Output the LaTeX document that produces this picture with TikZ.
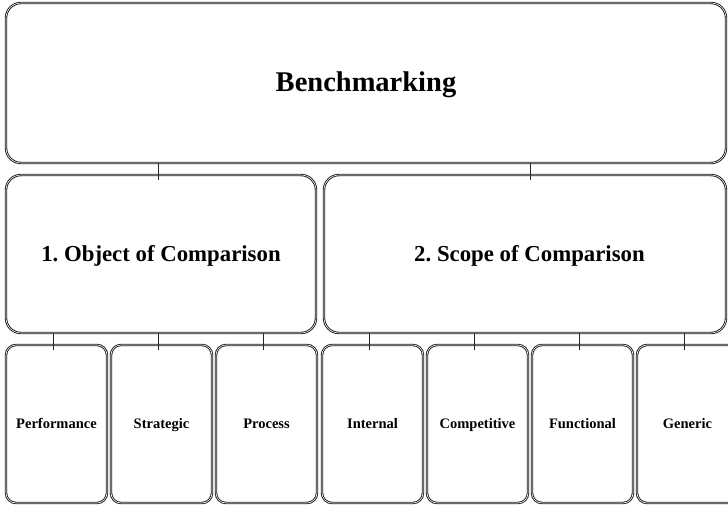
\documentclass[tikz,border=0pt]{standalone}
\usepackage{fontspec}
\setmainfont{Liberation Serif}
\begin{document}
\frenchspacing
\begin{tikzpicture}[x=1pt,y=-1pt,
  frame/.style={draw=black!90, double=white, double distance=0.6pt, line width=0.9pt,
    inner sep=0pt, font=\bfseries, align=center},
  bigbox/.style={frame, rounded corners=15pt},
  midbox/.style={bigbox, minimum height=158pt, text height=16pt, text depth=1pt,
    font=\bfseries\fontsize{22.8}{26}\selectfont},
  leafbox/.style={frame, rounded corners=10pt, minimum width=101pt, minimum height=158pt,
    text height=10pt, text depth=2pt,
    font=\bfseries\fontsize{14.5}{16}\selectfont},
  link/.style={draw=black!85, line width=0.6pt}
]
\clip (0,0) rectangle (728,505);

% root
\node[bigbox, minimum width=720pt, minimum height=160pt, text height=20pt, text depth=2pt,
  font=\bfseries\fontsize{28.5}{32}\selectfont] (root) at (366,83) {Benchmarking};

% two categories
\node[midbox, minimum width=310pt] (obj) at (161,254) {1. Object of Comparison};
\node[midbox, minimum width=402pt] (scope) at (525,254) {\hspace*{9pt}2. Scope of Comparison};

% leaves
\node[leafbox] (perf)  at (56.5,424)  {Performance};
\node[leafbox] (strat) at (161.5,424) {Strategic};
\node[leafbox] (proc)  at (266.5,424) {Process};
\node[leafbox] (int)   at (372.5,424) {Internal};
\node[leafbox] (comp)  at (477.5,424) {Competitive};
\node[leafbox] (func)  at (582.5,424) {Functional};
\node[leafbox] (gen)   at (687.5,424) {Generic};

% connectors
\draw[link] ([xshift=-3pt]root.south -| obj.north) -- ([xshift=-3pt,yshift=-5pt]obj.north);
\draw[link] ([xshift=5pt]root.south -| scope.north) -- ([xshift=5pt,yshift=-5pt]scope.north);
\foreach \c/\p in {perf/obj, strat/obj, proc/obj, int/scope, comp/scope, func/scope, gen/scope}
  \draw[link] ([xshift=-3pt]\p.south -| \c.north) -- ([xshift=-3pt,yshift=-5pt]\c.north);
\end{tikzpicture}
\end{document}
